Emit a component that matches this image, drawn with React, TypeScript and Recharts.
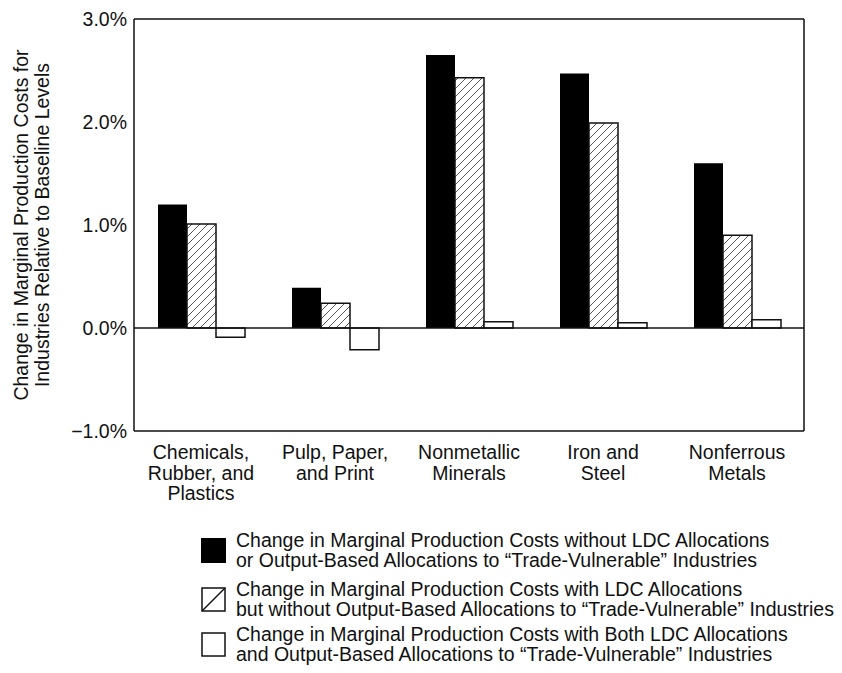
import { BarChart, Bar, XAxis, YAxis, ReferenceLine } from 'recharts';

const categories = ['Chemicals, Rubber, and Plastics', 'Pulp, Paper, and Print', 'Nonmetallic Minerals', 'Iron and Steel', 'Nonferrous Metals'];
const categoryLines = [
  ['Chemicals,', 'Rubber, and', 'Plastics'],
  ['Pulp, Paper,', 'and Print'],
  ['Nonmetallic', 'Minerals'],
  ['Iron and', 'Steel'],
  ['Nonferrous', 'Metals'],
];
// change in marginal production costs, percent
const noAllocations = [1.2, 0.39, 2.65, 2.47, 1.6];
const ldcOnly = [1.01, 0.24, 2.43, 1.99, 0.9];
const ldcAndOutput = [-0.09, -0.21, 0.06, 0.05, 0.08];
const yTicks = [-1, 0, 1, 2, 3];
const yLabelLines = ['Change in Marginal Production Costs for', 'Industries Relative to Baseline Levels'];
const legendLines = [
  ['Change in Marginal Production Costs without LDC Allocations', 'or Output-Based Allocations to \u201cTrade-Vulnerable\u201d Industries'],
  ['Change in Marginal Production Costs with LDC Allocations', 'but without Output-Based Allocations to \u201cTrade-Vulnerable\u201d Industries'],
  ['Change in Marginal Production Costs with Both LDC Allocations', 'and Output-Based Allocations to \u201cTrade-Vulnerable\u201d Industries'],
];

const data = categories.map((name, i) => ({
  name,
  noAllocations: noAllocations[i],
  ldcOnly: ldcOnly[i],
  ldcAndOutput: ldcAndOutput[i],
}));

const FONT = '"Liberation Sans", Arial, sans-serif';
const INK = '#111';
const FS = 19.5;
const legendGaps = [9, 5, 0];

const fmtPct = (v: number) => (v < 0 ? '\u2212' : '') + Math.abs(v).toFixed(1) + '%';

function CategoryTick({ x, y, index }: any) {
  const lines = categoryLines[index] || [];
  return (
    <text x={x} y={y} textAnchor="middle" fontSize={FS} fill={INK} fontFamily={FONT}>
      {lines.map((l, i) => (
        <tspan key={i} x={x} dy={i === 0 ? 28 : 20.5}>
          {l}
        </tspan>
      ))}
    </text>
  );
}

function YLabel({ viewBox }: any) {
  const cy = viewBox.y + viewBox.height / 2;
  return (
    <g>
      {yLabelLines.map((l, i) => {
        const lx = viewBox.x + 20 + i * 21;
        return (
          <text key={i} x={lx} y={cy} transform={`rotate(-90 ${lx} ${cy})`} textAnchor="middle" fontSize={19.5} fill={INK} fontFamily={FONT}>
            {l}
          </text>
        );
      })}
    </g>
  );
}

function LegendIcon({ kind }: { kind: number }) {
  return (
    <svg width={25} height={25} style={{ display: 'block' }}>
      {kind === 0 && <rect x={0} y={0} width={25} height={25} fill="#000" />}
      {kind === 1 && (
        <g>
          <rect x={1} y={1} width={23} height={23} fill="#fff" stroke={INK} strokeWidth={1.5} />
          <line x1={1} y1={24} x2={24} y2={1} stroke={INK} strokeWidth={1.5} />
        </g>
      )}
      {kind === 2 && <rect x={1} y={1} width={23} height={23} fill="#fff" stroke={INK} strokeWidth={1.5} />}
    </svg>
  );
}

export default function App() {
  return (
    <div style={{ position: 'relative', width: 834, height: 665, fontFamily: FONT, background: '#fff' }}>
      <BarChart width={834} height={500} data={data} margin={{ top: 10, right: 37, left: 0, bottom: 0 }} barGap={0} barSize={29}>
        <defs>
          <pattern id="hatch" patternUnits="userSpaceOnUse" width={8} height={8}>
            <rect width={8} height={8} fill="#fff" />
            <path d="M-2,2 L2,-2 M0,8 L8,0 M6,10 L10,6" stroke="#555" strokeWidth={1} />
          </pattern>
        </defs>
        <XAxis
          dataKey="name"
          xAxisId="bottom"
          height={77}
          tickSize={0}
          tickMargin={0}
          tickLine={false}
          axisLine={{ stroke: INK, strokeWidth: 1.5 }}
          tick={<CategoryTick />}
          interval={0}
        />
        <XAxis dataKey="name" xAxisId="top" orientation="top" height={1} tick={false} tickLine={false} axisLine={{ stroke: INK, strokeWidth: 1.5 }} />
        <YAxis
          yAxisId="left"
          width={126}
          domain={[-1, 3]}
          ticks={yTicks}
          tickFormatter={fmtPct}
          tickLine={false}
          tickSize={6}
          tickMargin={1}
          axisLine={{ stroke: INK, strokeWidth: 1.5 }}
          tick={{ fontSize: FS, fill: INK, fontFamily: FONT }}
          label={<YLabel />}
        />
        <YAxis yAxisId="right" orientation="right" width={1} domain={[-1, 3]} tick={false} tickLine={false} axisLine={{ stroke: INK, strokeWidth: 1.5 }} />
        <ReferenceLine y={0} yAxisId="left" xAxisId="bottom" stroke={INK} strokeWidth={1.5} />
        <Bar dataKey="noAllocations" xAxisId="bottom" yAxisId="left" fill="#000" isAnimationActive={false} />
        <Bar dataKey="ldcOnly" xAxisId="bottom" yAxisId="left" fill="url(#hatch)" stroke={INK} strokeWidth={1.5} isAnimationActive={false} />
        <Bar dataKey="ldcAndOutput" xAxisId="bottom" yAxisId="left" fill="#fff" stroke={INK} strokeWidth={1.5} isAnimationActive={false} />
      </BarChart>
      <div style={{ position: 'absolute', left: 193, top: 522 }}>
        {legendLines.map((lines, i) => (
          <div key={i} style={{ display: 'flex', alignItems: 'center', height: 40, marginBottom: legendGaps[i] }}>
            <LegendIcon kind={i} />
            <div style={{ marginLeft: 10, fontSize: FS, lineHeight: '20px', color: INK }}>
              {lines.map((l, j) => (
                <div key={j} style={{ whiteSpace: 'nowrap' }}>{l}</div>
              ))}
            </div>
          </div>
        ))}
      </div>
    </div>
  );
}
